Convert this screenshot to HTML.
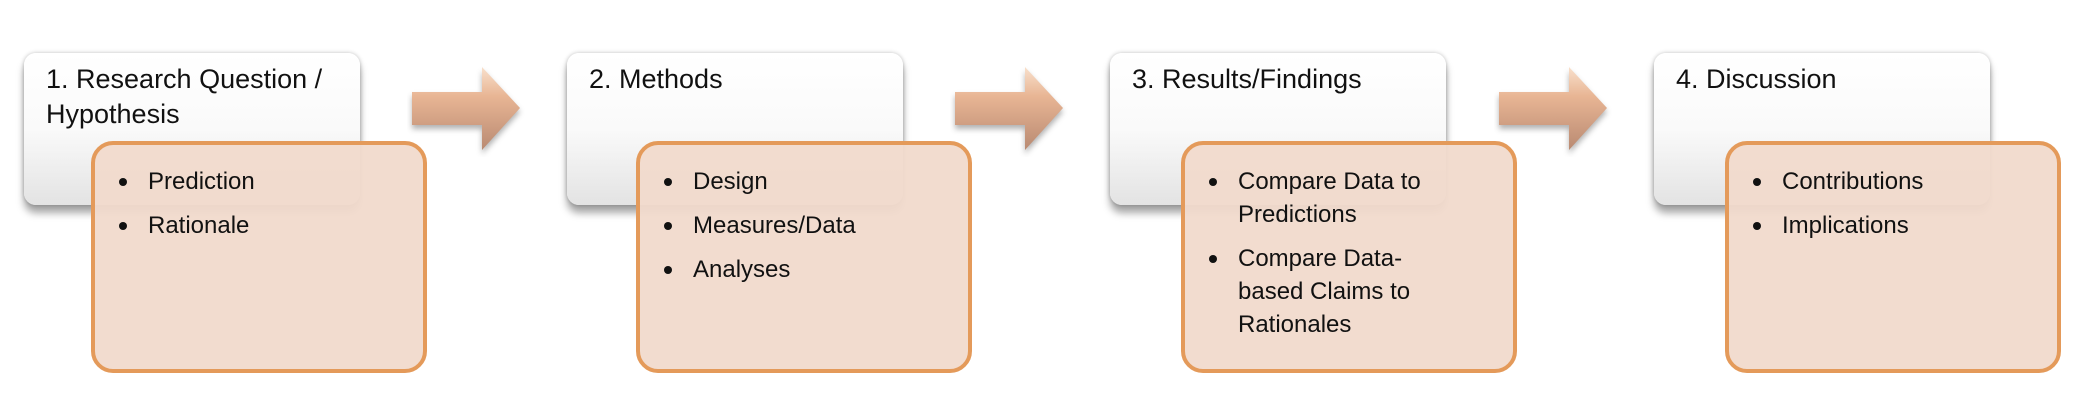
<!DOCTYPE html>
<html><head><meta charset="utf-8"><style>
body{margin:0;width:2092px;height:402px;background:#fff;position:relative;overflow:hidden;font-family:"Liberation Sans",sans-serif;color:#111}
.g{position:absolute;top:53px;width:336px;height:152px;border-radius:12px;background:linear-gradient(#fff 0%,#fafafa 50%,#e3e3e3 100%);box-shadow:0 8px 8px rgba(0,0,0,.35),0 0 4px rgba(0,0,0,.25);}
.g span{position:absolute;left:22px;top:9px;font-size:27px;line-height:35px}
.o{position:absolute;top:141px;width:336px;height:228px;border:4px solid #e49a5a;border-radius:22px;background:rgba(241,218,204,.95);box-sizing:border-box}
.o ul{margin:0;padding:0;list-style:none;position:absolute;left:24px;top:20px;font-size:24px;line-height:33px}
.o li{position:relative;padding-left:29px;margin-bottom:11px}
.o li:before{content:"";position:absolute;left:0;top:13px;width:8px;height:8px;border-radius:50%;background:#111}
.a{position:absolute;top:62px}
</style></head><body>
<div class="g" style="left:24px"><span>1. Research Question /<br>Hypothesis</span></div>
<div class="g" style="left:567px"><span>2. Methods</span></div>
<div class="g" style="left:1110px"><span>3. Results/Findings</span></div>
<div class="g" style="left:1654px"><span>4. Discussion</span></div>

<svg class="a" style="left:407px" width="120" height="95" viewBox="0 0 120 95"><defs><linearGradient id="ar" x1="0" y1="0" x2="0" y2="1"><stop offset="0" stop-color="#f8e0cc"/><stop offset=".35" stop-color="#e8b594"/><stop offset="1" stop-color="#b98a72"/></linearGradient></defs><path d="M5 30 H75 V5 L113 46 L75 88 V63 H5 Z" fill="url(#ar)" style="filter:drop-shadow(0 4px 3px rgba(0,0,0,.3))"/></svg>
<svg class="a" style="left:950px" width="120" height="95" viewBox="0 0 120 95"><path d="M5 30 H75 V5 L113 46 L75 88 V63 H5 Z" fill="url(#ar)" style="filter:drop-shadow(0 4px 3px rgba(0,0,0,.3))"/></svg>
<svg class="a" style="left:1494px" width="120" height="95" viewBox="0 0 120 95"><path d="M5 30 H75 V5 L113 46 L75 88 V63 H5 Z" fill="url(#ar)" style="filter:drop-shadow(0 4px 3px rgba(0,0,0,.3))"/></svg>

<div class="o" style="left:91px;height:232px"><ul><li>Prediction</li><li>Rationale</li></ul></div>
<div class="o" style="left:636px;height:232px"><ul><li>Design</li><li>Measures/Data</li><li>Analyses</li></ul></div>
<div class="o" style="left:1181px;height:232px"><ul><li>Compare Data to<br>Predictions</li><li>Compare Data-<br>based Claims to<br>Rationales</li></ul></div>
<div class="o" style="left:1725px;height:232px"><ul><li>Contributions</li><li>Implications</li></ul></div>
</body></html>
